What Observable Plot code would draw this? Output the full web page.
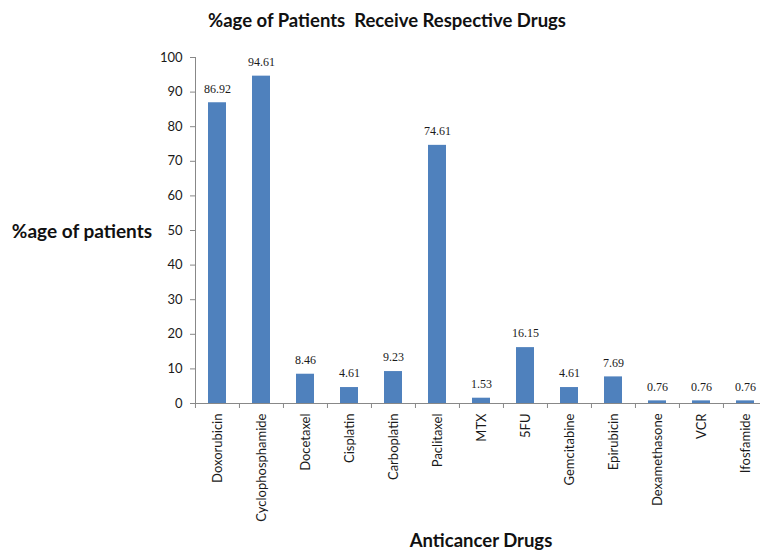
<!DOCTYPE html>
<html>
<head>
<meta charset="utf-8">
<script src="https://cdn.jsdelivr.net/npm/d3@7"></script>
<script src="https://cdn.jsdelivr.net/npm/@observablehq/plot@0.6"></script>
<style>
  html, body { margin: 0; padding: 0; width: 760px; height: 551px; overflow: hidden; background: #fff; }
  #wrap { position: relative; width: 760px; height: 551px; overflow: hidden; }
  #chart { position: absolute; left: 0; top: 0; width: 768px; height: 551px; }
  #chart svg { max-width: none !important; width: 768px; height: 551px; }
  .lbl { position: absolute; font-family: Lato, "Open Sans", sans-serif; font-weight: bold; color: #111; white-space: nowrap; transform: translate(-50%, -50%); }
  #chart svg text { fill: #1a1a1a; }
</style>
</head>
<body>
<div id="wrap">
  <div id="chart"></div>
  <div class="lbl" id="title" style="left:387px; top:20px; font-size:18.5px;">%age of Patients&nbsp; Receive Respective Drugs</div>
  <div class="lbl" id="ylabel" style="left:82px; top:230px; font-size:19px;">%age of patients</div>
  <div class="lbl" id="xlabel" style="left:481px; top:540px; font-size:18.5px;">Anticancer Drugs</div>
</div>
<script>
const drugs = ["Doxorubicin", "Cyclophosphamide", "Docetaxel", "Cisplatin", "Carboplatin", "Paclitaxel", "MTX", "5FU", "Gemcitabine", "Epirubicin", "Dexamethasone", "VCR", "Ifosfamide"];
const percents = [86.92, 94.61, 8.46, 4.61, 9.23, 74.61, 1.53, 16.15, 4.61, 7.69, 0.76, 0.76, 0.76];
const labels = ["86.92", "94.61", "8.46", "4.61", "9.23", "74.61", "1.53", "16.15", "4.61", "7.69", "0.76", "0.76", "0.76"];
const yTicks = [0, 10, 20, 30, 40, 50, 60, 70, 80, 90, 100];

const data = drugs.map((d, i) => ({drug: d, pct: percents[i], label: labels[i]}));

const W = 768, H = 551, ML = 195, MT = 57, MB = 148;
const step = (W - ML) / drugs.length;

const chart = Plot.plot({
  width: W,
  height: H,
  marginLeft: ML,
  marginRight: 0,
  marginTop: MT,
  marginBottom: MB,
  style: {fontFamily: "Lato, 'Open Sans', sans-serif", fontSize: "13px", color: "#888", background: "transparent"},
  x: {domain: drugs, paddingInner: 0.59, paddingOuter: 0.295, label: null, tickRotate: -90, tickSize: 0, tickPadding: 10},
  y: {domain: [0, 100], ticks: yTicks, label: null, tickSize: 5, tickPadding: 8, line: true},
  marks: [
    Plot.barY(data, {x: "drug", y: "pct", fill: "#4F81BD"}),
    Plot.ruleY([0], {stroke: "#888"}),
    Plot.ruleX(data, {x: "drug", y1: 0, y2: 0, dx: -step / 2, insetBottom: -5, stroke: "#888"}),
    Plot.text(data, {x: "drug", y: "pct", text: "label", dy: -14, fill: "#111", fontFamily: "'Liberation Serif', 'Times New Roman', serif", fontSize: 12})
  ]
});
document.getElementById("chart").appendChild(chart);
</script>
</body>
</html>
